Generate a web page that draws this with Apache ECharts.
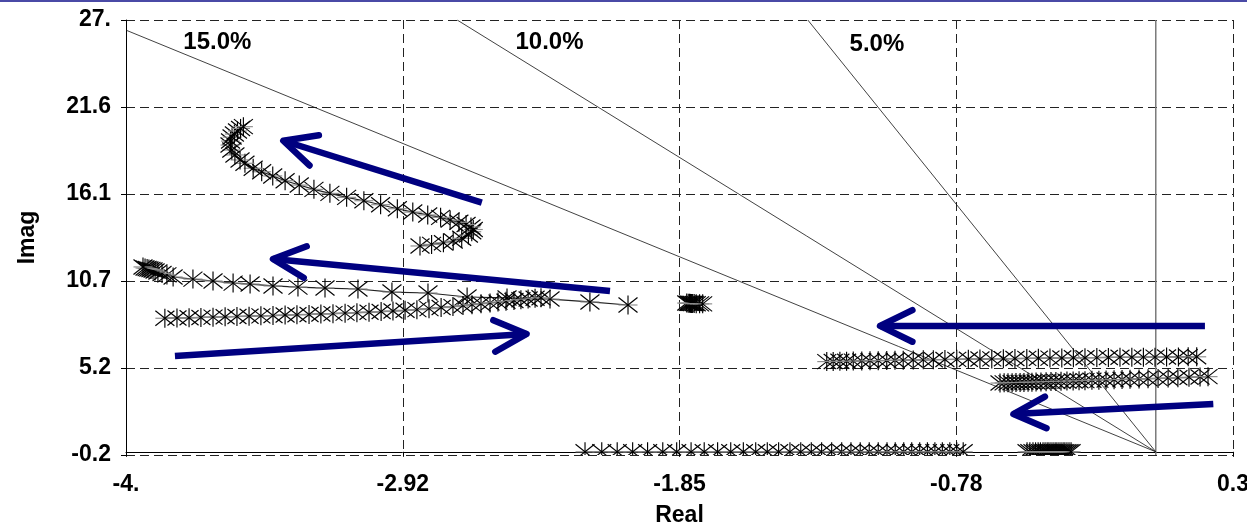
<!DOCTYPE html>
<html>
<head>
<meta charset="utf-8">
<script src="https://cdn.jsdelivr.net/npm/echarts@6/dist/echarts.min.js"></script>
<style>
  html, body { margin: 0; padding: 0; background: #fff; }
  #chart { width: 1247px; height: 529px; }
</style>
</head>
<body>
<div id="chart"></div>
<script>
// Axis ticks (ticks are counted from min with a fixed interval)
const xTicks = [-4, -2.925, -1.85, -0.775, 0.3];
const xTickLabels = ['-4.', '-2.92', '-1.85', '-0.78', '0.3'];
const yTicks = [-0.2, 5.24, 10.68, 16.12, 21.56, 27];
const yTickLabels = ['-0.2', '5.2', '10.7', '16.1', '21.6', '27.'];

// Constant damping rays and their labels
const dampingRatios = [0.15, 0.10, 0.05];
const dampingLabels = ['15.0%', '10.0%', '5.0%'];

// Eigenvalue loci [real, imag]
const upperLoop = [
  [-2.858, 12.87], [-2.813, 12.97], [-2.767, 13.07], [-2.729, 13.18], [-2.696, 13.35],
  [-2.670, 13.56], [-2.657, 13.76], [-2.651, 13.90], [-2.660, 14.06], [-2.679, 14.21],
  [-2.707, 14.35], [-2.741, 14.49], [-2.778, 14.66], [-2.828, 14.81], [-2.886, 14.99],
  [-2.946, 15.20], [-3.011, 15.45], [-3.076, 15.70], [-3.143, 15.91], [-3.208, 16.16],
  [-3.270, 16.41], [-3.327, 16.68], [-3.382, 16.95], [-3.430, 17.25], [-3.473, 17.51],
  [-3.506, 17.73], [-3.538, 18.04], [-3.557, 18.25], [-3.577, 18.56], [-3.589, 18.87],
  [-3.596, 19.18], [-3.594, 19.43], [-3.588, 19.68], [-3.579, 19.87], [-3.567, 20.06],
  [-3.555, 20.22], [-3.544, 20.33]
];
const leftReturn = [
  [-2.050, 9.18], [-2.198, 9.37], [-2.353, 9.55], [-2.520, 9.62], [-2.675, 9.68],
  [-2.827, 9.93], [-2.967, 9.99], [-3.099, 10.18], [-3.227, 10.24], [-3.332, 10.30],
  [-3.429, 10.37], [-3.518, 10.49], [-3.584, 10.55], [-3.662, 10.68], [-3.740, 10.80],
  [-3.817, 10.93], [-3.841, 11.06], [-3.860, 11.15], [-3.876, 11.24], [-3.887, 11.31],
  [-3.895, 11.37], [-3.903, 11.40], [-3.911, 11.43], [-3.918, 11.46], [-3.926, 11.49],
  [-3.934, 11.56]
];
const lowerRising = [
  [-3.849, 8.35], [-3.802, 8.37], [-3.755, 8.38], [-3.709, 8.40], [-3.662, 8.42],
  [-3.615, 8.44], [-3.569, 8.46], [-3.522, 8.48], [-3.476, 8.50], [-3.429, 8.52],
  [-3.382, 8.55], [-3.336, 8.57], [-3.289, 8.59], [-3.243, 8.62], [-3.196, 8.64],
  [-3.149, 8.67], [-3.103, 8.70], [-3.056, 8.73], [-3.009, 8.77], [-2.963, 8.80],
  [-2.916, 8.85], [-2.870, 8.89], [-2.823, 8.95], [-2.776, 9.02], [-2.730, 9.08],
  [-2.691, 9.15], [-2.656, 9.20], [-2.621, 9.26], [-2.586, 9.31], [-2.555, 9.36],
  [-2.524, 9.41], [-2.493, 9.46], [-2.466, 9.51], [-2.438, 9.55], [-2.411, 9.60],
  [-2.388, 9.63]
];
const midCluster = [
  [-1.822, 9.30], [-1.816, 9.29], [-1.811, 9.29], [-1.807, 9.28], [-1.803, 9.28],
  [-1.799, 9.27], [-1.793, 9.27], [-1.785, 9.26], [-1.772, 9.25], [-1.760, 9.25]
];
const rightUpper = [
  [-1.278, 5.64], [-1.253, 5.65], [-1.227, 5.66], [-1.201, 5.66], [-1.175, 5.67],
  [-1.142, 5.68], [-1.110, 5.69], [-1.078, 5.70], [-1.045, 5.71], [-1.013, 5.72],
  [-0.981, 5.73], [-0.942, 5.74], [-0.903, 5.75], [-0.864, 5.76], [-0.819, 5.77],
  [-0.773, 5.78], [-0.728, 5.79], [-0.683, 5.80], [-0.637, 5.81], [-0.592, 5.82],
  [-0.547, 5.83], [-0.501, 5.84], [-0.456, 5.85], [-0.411, 5.86], [-0.365, 5.87],
  [-0.320, 5.88], [-0.275, 5.88], [-0.229, 5.89], [-0.184, 5.90], [-0.139, 5.91],
  [-0.093, 5.91], [-0.048, 5.92], [-0.003, 5.92], [0.042, 5.93], [0.088, 5.93],
  [0.126, 5.94], [0.159, 5.94]
];
const rightLower = [
  [-0.605, 4.30], [-0.589, 4.31], [-0.574, 4.31], [-0.558, 4.32], [-0.543, 4.33],
  [-0.527, 4.33], [-0.512, 4.34], [-0.496, 4.35], [-0.481, 4.35], [-0.465, 4.36],
  [-0.446, 4.37], [-0.426, 4.38], [-0.407, 4.39], [-0.388, 4.40], [-0.368, 4.41],
  [-0.345, 4.42], [-0.321, 4.43], [-0.298, 4.44], [-0.275, 4.45], [-0.248, 4.47],
  [-0.221, 4.48], [-0.193, 4.49], [-0.162, 4.51], [-0.131, 4.52], [-0.100, 4.54],
  [-0.065, 4.56], [-0.030, 4.57], [0.009, 4.59], [0.048, 4.61], [0.086, 4.63],
  [0.129, 4.66], [0.172, 4.68], [0.203, 4.70]
];
const realTrack = [
  [-2.217, 0], [-2.152, 0], [-2.092, 0], [-2.032, 0], [-1.974, 0], [-1.915, 0],
  [-1.861, 0], [-1.805, 0], [-1.754, 0], [-1.702, 0], [-1.651, 0], [-1.602, 0],
  [-1.554, 0], [-1.509, 0], [-1.465, 0], [-1.421, 0], [-1.379, 0], [-1.338, 0],
  [-1.298, 0], [-1.259, 0], [-1.220, 0], [-1.184, 0], [-1.148, 0], [-1.113, 0],
  [-1.078, 0], [-1.044, 0], [-1.012, 0], [-0.979, 0], [-0.948, 0], [-0.917, 0],
  [-0.887, 0], [-0.858, 0], [-0.829, 0], [-0.800, 0], [-0.773, 0], [-0.748, 0]
];
const realCluster = [
  [-0.500, 0], [-0.489, 0], [-0.477, 0], [-0.467, 0], [-0.457, 0], [-0.448, 0],
  [-0.438, 0], [-0.430, 0], [-0.422, 0], [-0.415, 0], [-0.407, 0], [-0.399, 0],
  [-0.391, 0], [-0.384, 0], [-0.376, 0], [-0.368, 0], [-0.360, 0], [-0.353, 0],
  [-0.345, 0], [-0.337, 0], [-0.329, 0]
];

// Direction arrows [tailRe, tailIm, tipRe, tipIm]
const arrows = [
  [-2.618, 15.58, -3.389, 19.45],
  [-2.120, 10.05, -3.429, 12.06],
  [-3.810, 5.99, -2.444, 7.37],
  [0.191, 7.87, -1.071, 7.87],
  [0.2235, 2.99, -0.553, 2.36]
];

// Anchor points for the damping labels [re, im]
const dampingLabelAt = [[-3.645, 25.59], [-2.355, 25.59], [-1.083, 25.50]];

const xMin = xTicks[0], xMax = xTicks[xTicks.length - 1];
const yMin = yTicks[0], yMax = yTicks[yTicks.length - 1];
const FONT = '"Liberation Sans", Arial, Helvetica, sans-serif';

function nearestLabel(ticks, labels, v) {
  let best = 0;
  for (let i = 1; i < ticks.length; i++) {
    if (Math.abs(ticks[i] - v) < Math.abs(ticks[best] - v)) best = i;
  }
  return labels[best];
}

// Ray from the origin for a given damping ratio, cut at the plot border
function dampingRay(z) {
  const k = Math.sqrt(1 - z * z) / z;
  let x = -yMax / k, y = yMax;
  if (x < xMin) { x = xMin; y = -k * xMin; }
  return [[0, 0], [x, y]];
}

// Asterisk marker: X, vertical bar and a grey horizontal bar
function renderStar(params, api) {
  const p = api.coord([api.value(0), api.value(1)]);
  const hw = 9.5, hx = 7.5, hv = 9.5, lw = 1.15;
  return {
    type: 'group',
    children: [
      { type: 'line', shape: { x1: p[0] - hw, y1: p[1], x2: p[0] + hw, y2: p[1] },
        style: { stroke: '#8c8c8c', lineWidth: lw } },
      { type: 'line', shape: { x1: p[0] - hw, y1: p[1] - hx, x2: p[0] + hw, y2: p[1] + hx },
        style: { stroke: '#000', lineWidth: lw } },
      { type: 'line', shape: { x1: p[0] - hw, y1: p[1] + hx, x2: p[0] + hw, y2: p[1] - hx },
        style: { stroke: '#000', lineWidth: lw } },
      { type: 'line', shape: { x1: p[0], y1: p[1] - hv, x2: p[0], y2: p[1] + hv },
        style: { stroke: '#000', lineWidth: lw } }
    ]
  };
}

function renderArrow(params, api) {
  const a = api.coord([api.value(0), api.value(1)]);
  const b = api.coord([api.value(2), api.value(3)]);
  const ang = Math.atan2(a[1] - b[1], a[0] - b[0]);
  const L = 36, th = 26 * Math.PI / 180;
  const b1 = [b[0] + L * Math.cos(ang + th), b[1] + L * Math.sin(ang + th)];
  const b2 = [b[0] + L * Math.cos(ang - th), b[1] + L * Math.sin(ang - th)];
  const col = '#000080';
  return {
    type: 'group',
    children: [
      { type: 'line', shape: { x1: a[0], y1: a[1], x2: b[0], y2: b[1] },
        style: { stroke: col, lineWidth: 6.5, lineCap: 'butt' } },
      { type: 'polyline', shape: { points: [b1, b, b2] },
        style: { stroke: col, lineWidth: 6.5, lineCap: 'round', lineJoin: 'round', fill: null } }
    ]
  };
}

function renderDampingLabel(params, api) {
  const p = api.coord([api.value(0), api.value(1)]);
  return {
    type: 'text',
    x: p[0], y: p[1],
    style: {
      text: dampingLabels[params.dataIndex],
      fill: '#000',
      font: 'bold 24px ' + FONT,
      align: 'center', verticalAlign: 'middle'
    }
  };
}

const loci = [upperLoop, leftReturn, lowerRising, midCluster, rightUpper, rightLower, realTrack, realCluster];

const series = [];

// Imaginary axis through the origin
series.push({
  type: 'line', silent: true, symbol: 'none', z: 2,
  data: [[0, yMin], [0, yMax]],
  lineStyle: { color: '#7a7a7a', width: 1.5 }
});

// Damping rays
dampingRatios.forEach(z => {
  series.push({
    type: 'line', silent: true, symbol: 'none', z: 3,
    data: dampingRay(z),
    lineStyle: { color: '#111', width: 0.8 }
  });
});

// Connecting traces
loci.forEach(d => {
  series.push({
    type: 'line', silent: true, symbol: 'none', z: 4, clip: true,
    data: d,
    lineStyle: { color: '#222', width: 1.2 }
  });
});

// Star markers
loci.forEach(d => {
  series.push({
    type: 'custom', silent: true, z: 5, clip: true,
    renderItem: renderStar,
    data: d
  });
});

// Arrows
series.push({
  type: 'custom', silent: true, z: 6, clip: false,
  renderItem: renderArrow,
  data: arrows
});

// Damping labels
series.push({
  type: 'custom', silent: true, z: 7, clip: false,
  renderItem: renderDampingLabel,
  data: dampingLabelAt
});

const chart = echarts.init(document.getElementById('chart'), null, { renderer: 'canvas' });
chart.setOption({
  animation: false,
  backgroundColor: '#fff',
  graphic: [{
    type: 'rect', left: 0, top: 0, z: 10,
    shape: { width: 1247, height: 2 },
    style: { fill: '#4a4aa6' }
  }],
  grid: { left: 126, right: 14, top: 20, bottom: 74, containLabel: false, outerBoundsMode: 'none' },
  xAxis: {
    type: 'value', min: xMin, max: xMax, interval: 1.075,
    name: 'Real', nameLocation: 'middle', nameGap: 49,
    nameTextStyle: { fontFamily: FONT, fontWeight: 'bold', fontSize: 23, color: '#000' },
    axisLine: { show: true, onZero: true, lineStyle: { color: '#000', width: 1 } },
    axisTick: { show: true, length: 5, lineStyle: { color: '#000' } },
    axisLabel: {
      margin: 18, fontFamily: FONT, fontWeight: 'bold', fontSize: 23, color: '#000',
      formatter: v => nearestLabel(xTicks, xTickLabels, v)
    },
    splitLine: { show: true, lineStyle: { color: '#222', width: 1, type: [9, 5] } }
  },
  yAxis: {
    type: 'value', min: yMin, max: yMax, interval: 5.44,
    name: 'Imag', nameLocation: 'middle', nameGap: 87,
    nameTextStyle: { fontFamily: FONT, fontWeight: 'bold', fontSize: 23, color: '#000' },
    axisLine: { show: true, onZero: false, lineStyle: { color: '#000', width: 1 } },
    axisTick: { show: true, length: 5, lineStyle: { color: '#000' } },
    axisLabel: {
      margin: 15, fontFamily: FONT, fontWeight: 'bold', fontSize: 23, color: '#000',
      formatter: v => nearestLabel(yTicks, yTickLabels, v)
    },
    splitLine: { show: true, lineStyle: { color: '#222', width: 1, type: [9, 5] } }
  },
  series: series
});
</script>
</body>
</html>
